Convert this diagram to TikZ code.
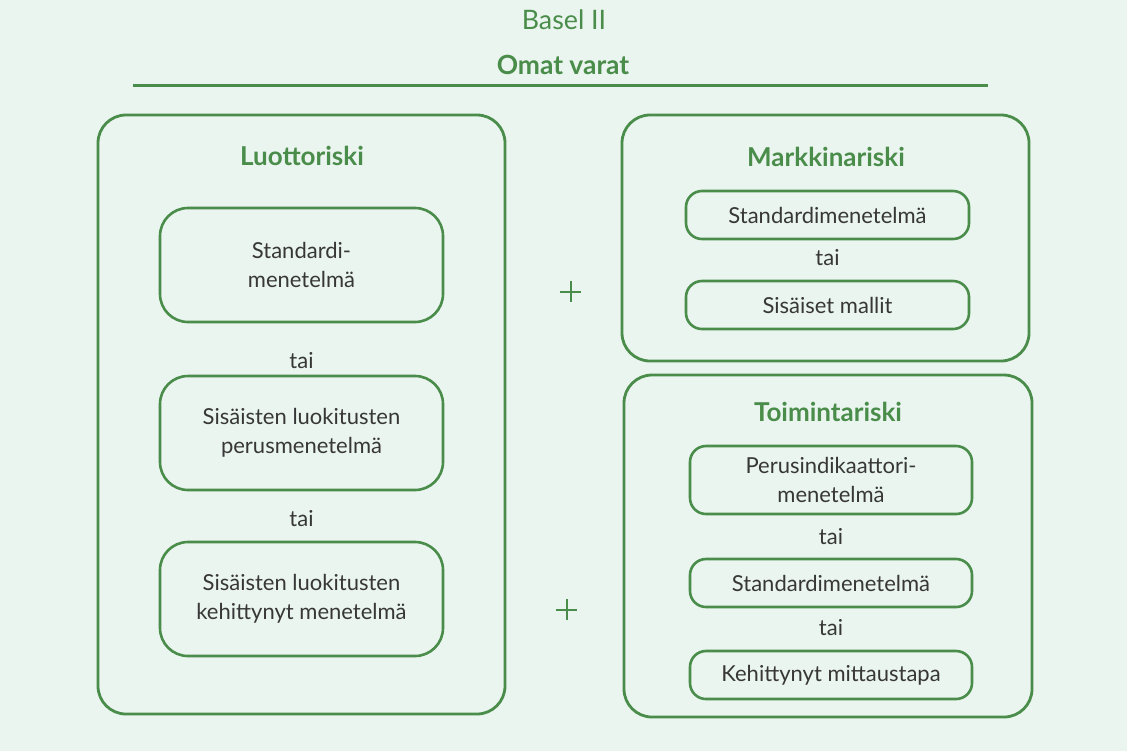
\documentclass[tikz,border=0pt]{standalone}
\usepackage{fontspec}
\setmainfont{Lato}
\usetikzlibrary{positioning}
\definecolor{baselgreen}{RGB}{74,140,74}
\definecolor{baselbg}{RGB}{234,245,239}
\definecolor{baseltext}{RGB}{55,55,55}
\tikzset{
  risk box/.style={
    rectangle, rounded corners=14pt, draw=baselgreen, line width=1.4pt,
    minimum width=203.5pt, inner sep=0pt
  },
  method box/.style={
    rectangle, rounded corners=14pt, draw=baselgreen, line width=1.3pt,
    text=baseltext, align=center, font=\fontsize{11}{14.5}\selectfont,
    minimum width=141.5pt, minimum height=57pt, inner sep=2pt
  },
  small method/.style={method box, rounded corners=8pt, minimum height=24pt},
  risk title/.style={text=baselgreen, font=\bfseries\fontsize{13}{15}\selectfont},
  or label/.style={text=baseltext, font=\fontsize{11}{14}\selectfont},
  plus sign/.style={
    rectangle, minimum size=10.5pt, inner sep=0pt,
    path picture={
      \draw[baselgreen, line width=1pt]
        (path picture bounding box.west) -- (path picture bounding box.east)
        (path picture bounding box.north) -- (path picture bounding box.south);
    }
  }
}

\begin{document}
\begin{tikzpicture}[x=0.5pt, y=-0.5pt]
    \fill[baselbg] (0,0) rectangle (1127,751);
    \useasboundingbox (0,0) rectangle (1127,751);

    % heading
    \node[text=baselgreen, font=\fontsize{13.4}{16}\selectfont] (basel) at (564,20) {Basel II};
    \node[text=baselgreen, font=\bfseries\fontsize{13.2}{15}\selectfont] (funds) at (563,65) {Omat varat};
    \coordinate (ruleleft) at (133,85);
    \coordinate (ruleright) at (988,85);
    \draw[baselgreen, line width=1.5pt] (ruleleft) -- (ruleright);

    % credit risk
    \node[risk box, minimum height=299.5pt] (credit) at (301.5,414.5) {};
    \node[risk title] (credittitle) at (302,156) {Luottoriski};
    \node[method box] (creditstd) at (301.5,265) {Standardi-\\menetelmä};
    \node[or label] (creditor1) at (301.5,361) {tai};
    \node[method box] (creditfirb) at (301.5,433) {Sisäisten luokitusten\\perusmenetelmä};
    \node[or label] (creditor2) at (301.5,519) {tai};
    \node[method box] (creditairb) at (301.5,599) {Sisäisten luokitusten\\kehittynyt menetelmä};

    % market risk
    \node[risk box, minimum height=123pt] (market) at (825.5,238) {};
    \node[risk title] (markettitle) at (826,157) {Markkinariski};
    \node[small method] (marketstd) at (827.5,215) {Standardimenetelmä};
    \node[or label] (marketor) at (827.5,258) {tai};
    \node[small method] (marketint) at (827.5,305) {Sisäiset mallit};

    % operational risk
    \node[risk box, minimum width=204pt, minimum height=171pt] (oper) at (828,546) {};
    \node[risk title] (opertitle) at (828,412) {Toimintariski};
    \node[small method, minimum width=141pt, minimum height=34pt] (operbia) at (831,480) {Perusindikaattori-\\menetelmä};
    \node[or label] (operor1) at (831,537) {tai};
    \node[small method, minimum width=141pt] (operstd) at (831,583) {Standardimenetelmä};
    \node[or label] (operor2) at (831,628) {tai};
    \node[small method, minimum width=141pt] (operama) at (831,675) {Kehittynyt mittaustapa};

    % plus signs
    \node[plus sign] (plusupper) at (570.5,291.5) {};
    \node[plus sign] (pluslower) at (566.5,609.5) {};
\end{tikzpicture}
\end{document}
